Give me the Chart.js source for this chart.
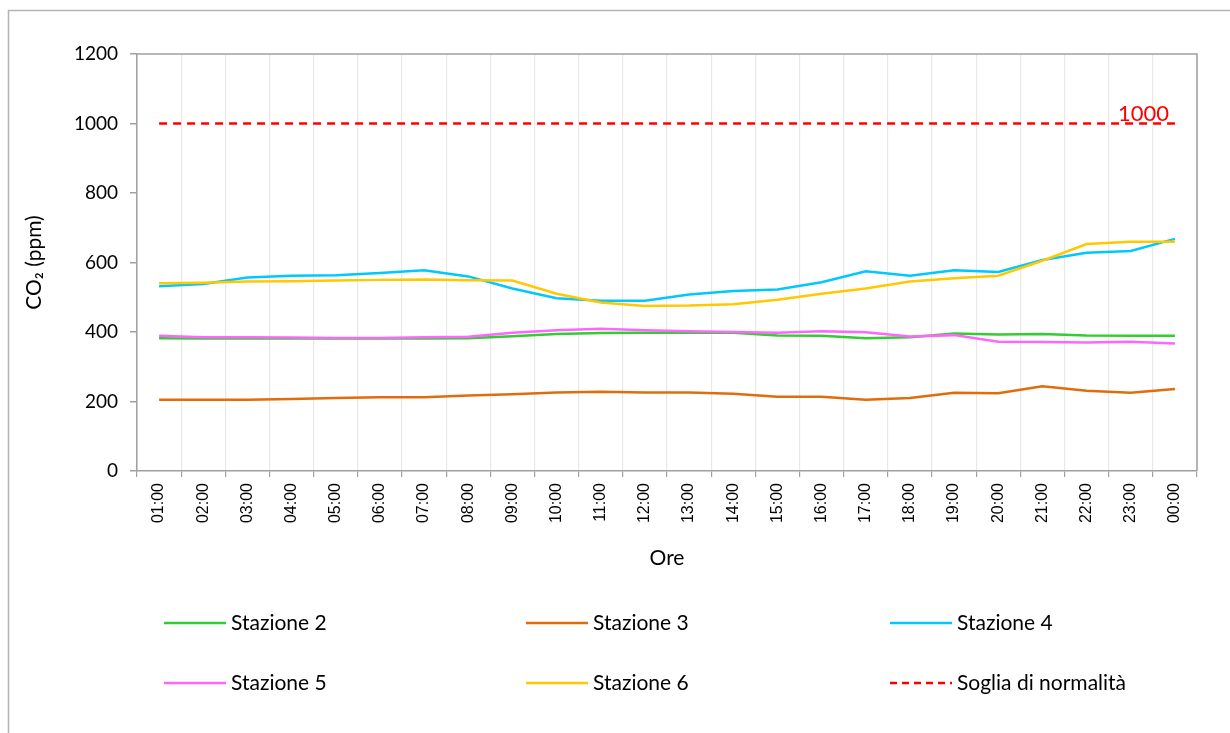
<!DOCTYPE html>
<html lang="it">
<head>
<meta charset="utf-8">
<title>CO2 - Stazioni</title>
<script src="https://cdn.jsdelivr.net/npm/chart.js@4.4.1/dist/chart.umd.min.js"></script>
<style>
  html, body { margin: 0; padding: 0; background: #fff; }
  #chart { display: block; }
</style>
</head>
<body>
<canvas id="chart" width="1230" height="733"></canvas>
<script>
// ===== DATA =====
const hours = ['01:00', '02:00', '03:00', '04:00', '05:00', '06:00', '07:00', '08:00',
  '09:00', '10:00', '11:00', '12:00', '13:00', '14:00', '15:00', '16:00',
  '17:00', '18:00', '19:00', '20:00', '21:00', '22:00', '23:00', '00:00'];

const stazione2 = [382, 381, 381, 381, 381, 381, 381, 382, 388, 394, 397, 398,
  398, 398, 390, 389, 382, 385, 396, 393, 394, 390, 389, 389];
const stazione3 = [205, 205, 205, 207, 210, 212, 212, 217, 221, 226, 228, 226,
  226, 222, 214, 214, 205, 210, 225, 224, 244, 231, 225, 236];
const stazione4 = [532, 538, 557, 562, 563, 570, 578, 560, 525, 497, 490, 490,
  508, 518, 522, 543, 575, 562, 578, 573, 607, 628, 633, 668];
const stazione5 = [389, 385, 385, 384, 383, 383, 385, 386, 398, 405, 409, 405,
  402, 400, 398, 402, 399, 387, 391, 372, 371, 370, 372, 367];
const stazione6 = [540, 542, 545, 546, 548, 550, 551, 549, 548, 510, 485, 475,
  476, 480, 493, 510, 525, 545, 555, 562, 605, 653, 660, 660];
const soglia = hours.map(() => 1000);

const yTicks = [0, 200, 400, 600, 800, 1000, 1200];

const AXIS_GRAY = '#a0a0a0';
const FONT_UI = 'Lato, "Open Sans", sans-serif';

/**
 * Build one line dataset
 */
function makeSeries(label, data, color, order, dash) {
  return {
    label: label,
    data: data,
    borderColor: color,
    backgroundColor: color,
    borderWidth: 2.5,
    borderDash: dash || [],
    pointRadius: 0,
    tension: 0,
    fill: false,
    order: order
  };
}

// ===== PLUGIN: frame, plot border, threshold label, legend =====
const decorPlugin = {
  id: 'decor',
  afterDraw(chart) {
    const ctx = chart.ctx;
    const area = chart.chartArea;
    const x = chart.scales.x;
    const y = chart.scales.y;

    ctx.save();

    // outer frame of the picture
    ctx.strokeStyle = '#b4b4b4';
    ctx.lineWidth = 1.5;
    ctx.strokeRect(8.5, 10.5, chart.width + 20, chart.height + 20);

    // top and right border of the plot area
    ctx.strokeStyle = AXIS_GRAY;
    ctx.lineWidth = 1.5;
    ctx.beginPath();
    ctx.moveTo(area.left, area.top);
    ctx.lineTo(area.right, area.top);
    ctx.lineTo(area.right, area.bottom);
    ctx.stroke();

    // threshold value label near the last point
    const lastIdx = soglia.length - 1;
    ctx.fillStyle = '#ff0000';
    ctx.font = '22px ' + FONT_UI;
    ctx.textAlign = 'right';
    ctx.textBaseline = 'alphabetic';
    ctx.fillText(String(soglia[lastIdx]), x.getPixelForValue(lastIdx) - 6, y.getPixelForValue(soglia[lastIdx]) - 3);

    // legend: 3 columns x 2 rows
    const cols = [164, 526, 890];
    const rows = [623, 683];
    const sets = chart.data.datasets;
    ctx.font = '21px ' + FONT_UI;
    ctx.textAlign = 'left';
    ctx.textBaseline = 'middle';
    sets.forEach((ds, i) => {
      const cx = cols[i % 3];
      const cy = rows[Math.floor(i / 3)];
      ctx.strokeStyle = ds.borderColor;
      ctx.lineWidth = 2.5;
      ctx.setLineDash(ds.borderDash.length ? [7, 5] : []);
      ctx.beginPath();
      ctx.moveTo(cx, cy);
      ctx.lineTo(cx + 62, cy);
      ctx.stroke();
      ctx.setLineDash([]);
      ctx.fillStyle = '#000';
      ctx.fillText(ds.label, cx + 67, cy);
    });

    ctx.restore();
  }
};

// ===== CHART =====
function initChart() {
  const ctx = document.getElementById('chart');

  new Chart(ctx, {
    type: 'line',
    data: {
      labels: hours,
      datasets: [
        makeSeries('Stazione 2', stazione2, '#33cc33', 6),
        makeSeries('Stazione 3', stazione3, '#e36c0a', 5),
        makeSeries('Stazione 4', stazione4, '#00c8ff', 4),
        makeSeries('Stazione 5', stazione5, '#ff66ff', 3),
        makeSeries('Stazione 6', stazione6, '#ffc800', 2),
        makeSeries('Soglia di normalità', soglia, '#ff0000', 1, [8, 6])
      ]
    },
    options: {
      responsive: false,
      animation: false,
      devicePixelRatio: 1,
      layout: {
        padding: { left: 0, top: 54, right: 33, bottom: 162 }
      },
      plugins: {
        legend: { display: false },
        tooltip: { enabled: false }
      },
      scales: {
        x: {
          offset: true,
          afterFit(scale) { scale.height = 100; },
          grid: {
            offset: true,
            color: '#e8e8e8',
            tickColor: AXIS_GRAY,
            tickLength: 6,
            lineWidth: 1.2
          },
          border: { color: AXIS_GRAY, width: 1.5 },
          ticks: {
            autoSkip: false,
            minRotation: 90,
            maxRotation: 90,
            padding: 6,
            color: '#000',
            font: { family: '"Liberation Sans", Arial, sans-serif', size: 16 }
          },
          title: {
            display: true,
            text: 'Ore',
            color: '#000',
            padding: { top: 0, bottom: 0 },
            font: { family: FONT_UI, size: 21 }
          }
        },
        y: {
          min: 0,
          max: 1200,
          afterFit(scale) { scale.width = 137; },
          afterBuildTicks(scale) {
            scale.ticks = yTicks.map(v => ({ value: v }));
          },
          grid: {
            drawOnChartArea: false,
            tickColor: AXIS_GRAY,
            tickLength: 7,
            lineWidth: 1.5
          },
          border: { color: AXIS_GRAY, width: 1.5 },
          ticks: {
            padding: 12,
            color: '#000',
            font: { family: FONT_UI, size: 19 },
            callback: v => String(v)
          },
          title: {
            display: true,
            text: 'CO₂ (ppm)',
            color: '#000',
            padding: { top: 22, bottom: 0 },
            font: { family: FONT_UI, size: 21 }
          }
        }
      }
    },
    plugins: [decorPlugin]
  });
}

initChart();
</script>
</body>
</html>
